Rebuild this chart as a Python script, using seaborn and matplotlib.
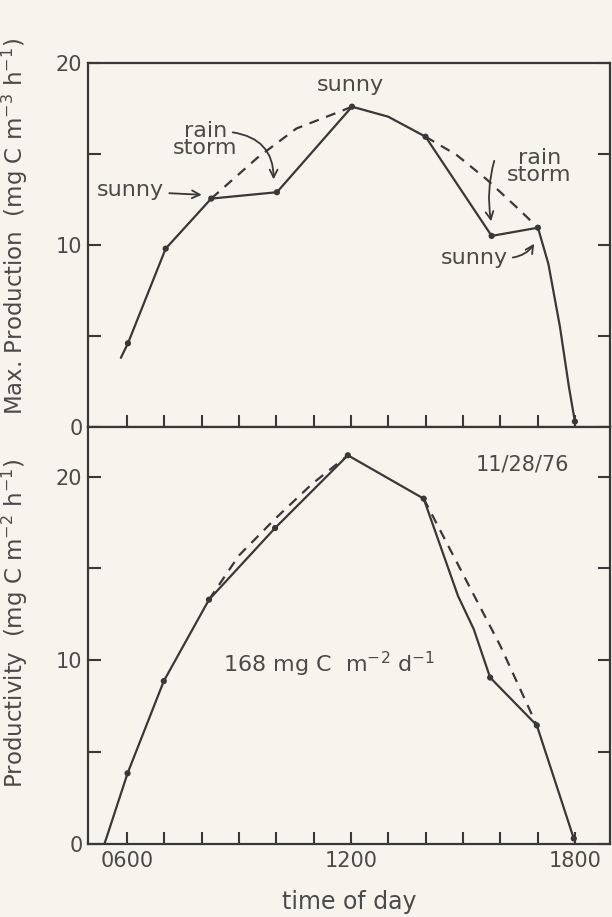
import matplotlib
matplotlib.use("Agg")
import matplotlib.pyplot as plt
import seaborn as sns
import pandas as pd

# ---------------- data ----------------
# top panel: max. production (mg C m^-3 h^-1) vs time of day (hours)
top_dot_time = [6.03, 7.04, 8.26, 10.02, 12.03, 14.0, 15.77, 17.01, 18.0]
top_dot_val = [4.6, 9.8, 12.55, 12.9, 17.6, 15.95, 10.5, 10.95, 0.3]
top_line_time = [5.84, 6.03, 7.04, 8.26, 10.02, 12.03, 13.0, 14.0, 15.77, 17.01, 17.29, 17.6, 17.84, 18.0]
top_line_val = [3.8, 4.6, 9.8, 12.55, 12.9, 17.6, 17.05, 15.95, 10.5, 10.95, 8.96, 5.5, 2.2, 0.3]
top_dash1_time = [8.26, 9.5, 10.54, 11.79, 12.03]
top_dash1_val = [12.55, 14.8, 16.4, 17.4, 17.6]
top_dash2_time = [14.0, 14.83, 15.64, 16.53, 17.01]
top_dash2_val = [15.95, 14.95, 13.6, 11.9, 10.95]

# bottom panel: productivity (mg C m^-2 h^-1)
bot_dot_time = [6.02, 6.99, 8.2, 9.97, 11.92, 13.95, 15.73, 16.98, 17.97]
bot_dot_val = [3.85, 8.87, 13.3, 17.2, 21.16, 18.8, 9.06, 6.46, 0.3]
bot_line_time = [5.4, 6.02, 6.99, 8.2, 9.97, 11.92, 13.95, 14.87, 15.29, 15.73, 16.98, 17.97]
bot_line_val = [0.0, 3.85, 8.87, 13.3, 17.2, 21.16, 18.8, 13.5, 11.7, 9.06, 6.46, 0.3]
bot_dash1_time = [8.2, 9.0, 9.97, 10.96, 11.92]
bot_dash1_val = [13.3, 15.7, 17.7, 19.6, 21.16]
bot_dash2_time = [13.95, 15.0, 16.0, 16.98]
bot_dash2_val = [18.8, 14.7, 10.8, 6.46]

hour_ticks = [6, 7, 8, 9, 10, 11, 12, 13, 14, 15, 16, 17, 18]
hour_labels = ["0600", "", "", "", "", "", "1200", "", "", "", "", "", "1800"]
y_ticks = [0, 5, 10, 15, 20]
y_labels = ["0", "", "10", "", "20"]

# ---------------- style ----------------
sns.set_style("ticks")
plt.rcParams["font.family"] = ["DejaVu Sans"]
plt.rcParams["mathtext.default"] = "regular"

BG = "#f6f4ec"
INK = "#383838"
TXT = "#4a4a4a"

fig = plt.figure(figsize=(6.12, 9.17), dpi=100, facecolor=BG)
W, H = 612.0, 917.0
L, R, T, M, B = 88, 610, 63, 427, 844
ax1 = fig.add_axes([L / W, 1 - M / H, (R - L) / W, (M - T) / H])
ax2 = fig.add_axes([L / W, 1 - B / H, (R - L) / W, (B - M) / H])

def draw(ax, lt, lv, dt, dv, d1t, d1v, d2t, d2v):
    sns.lineplot(x=lt, y=lv, ax=ax, color=INK, lw=1.6, sort=False, estimator=None)
    sns.lineplot(x=d1t, y=d1v, ax=ax, color=INK, lw=1.6, sort=False, estimator=None,
                 dashes=False, linestyle=(0, (4.5, 3.5)))
    sns.lineplot(x=d2t, y=d2v, ax=ax, color=INK, lw=1.6, sort=False, estimator=None,
                 dashes=False, linestyle=(0, (4.5, 3.5)))
    sns.scatterplot(x=dt, y=dv, ax=ax, color=INK, s=20, edgecolor="none", zorder=5)

draw(ax1, top_line_time, top_line_val, top_dot_time, top_dot_val,
     top_dash1_time, top_dash1_val, top_dash2_time, top_dash2_val)
draw(ax2, bot_line_time, bot_line_val, bot_dot_time, bot_dot_val,
     bot_dash1_time, bot_dash1_val, bot_dash2_time, bot_dash2_val)

for ax in (ax1, ax2):
    ax.set_facecolor(BG)
    ax.set_xlim(4.96, 18.94)
    for s in ax.spines.values():
        s.set_color(INK)
        s.set_linewidth(1.6)
    ax.set_xticks(hour_ticks)
    ax.set_yticks(y_ticks)
    ax.set_yticklabels(y_labels)
    ax.tick_params(axis="x", direction="in", length=9, width=1.5, color=INK,
                   labelsize=15, labelcolor=TXT, pad=5)
    ax.tick_params(axis="y", direction="in", length=9, width=1.5, color=INK,
                   left=True, right=True, labelsize=15, labelcolor=TXT, pad=4)

ax1.set_ylim(0, 20)
ax2.set_ylim(0, 22.7)
ax1.set_xticklabels([])
ax2.set_xticklabels(hour_labels)

ax1.set_xlabel("")
ax2.set_xlabel("time of day", fontsize=17, color=TXT, labelpad=14)
ax1.set_ylabel("Max. Production  (mg C m$^{-3}$ h$^{-1}$)", fontsize=16.5, color=TXT)
ax2.set_ylabel("Productivity  (mg C m$^{-2}$ h$^{-1}$)", fontsize=16.5, color=TXT)
ax1.yaxis.set_label_coords(-0.112, 0.55)
ax2.yaxis.set_label_coords(-0.112, 0.53)

# ---------------- annotations ----------------
fs = 16
arrow = dict(arrowstyle="->", color=INK, lw=1.3, mutation_scale=14, shrinkA=1, shrinkB=2)

ax1.text(6.1, 13.0, "sunny", fontsize=fs, color=TXT, ha="center", va="center")
ax1.annotate("", xy=(8.08, 12.75), xytext=(7.1, 12.85), arrowprops=arrow)

ax1.text(8.1, 15.8, "rain\nstorm", fontsize=fs, color=TXT, ha="center", va="center",
         linespacing=0.8)
ax1.annotate("", xy=(9.93, 13.45), xytext=(8.8, 16.2),
             arrowprops=dict(arrow, connectionstyle="arc3,rad=-0.45"))

ax1.text(12.0, 18.8, "sunny", fontsize=fs, color=TXT, ha="center", va="center")

ax1.text(17.05, 14.3, "rain\nstorm", fontsize=fs, color=TXT, ha="center", va="center",
         linespacing=0.8)
ax1.annotate("", xy=(15.77, 11.15), xytext=(15.85, 14.7),
             arrowprops=dict(arrow, connectionstyle="arc3,rad=0.12"))

ax1.text(15.32, 9.3, "sunny", fontsize=fs, color=TXT, ha="center", va="center")
ax1.annotate("", xy=(16.95, 10.2), xytext=(16.3, 9.3),
             arrowprops=dict(arrow, connectionstyle="arc3,rad=0.25"))

ax2.text(11.42, 9.8, "168 mg C  m$^{-2}$ d$^{-1}$", fontsize=fs, color=TXT,
         ha="center", va="center")
ax2.text(16.6, 20.65, "11/28/76", fontsize=15, color=TXT, ha="center", va="center")

fig.savefig("out.png", dpi=100, facecolor=BG)
